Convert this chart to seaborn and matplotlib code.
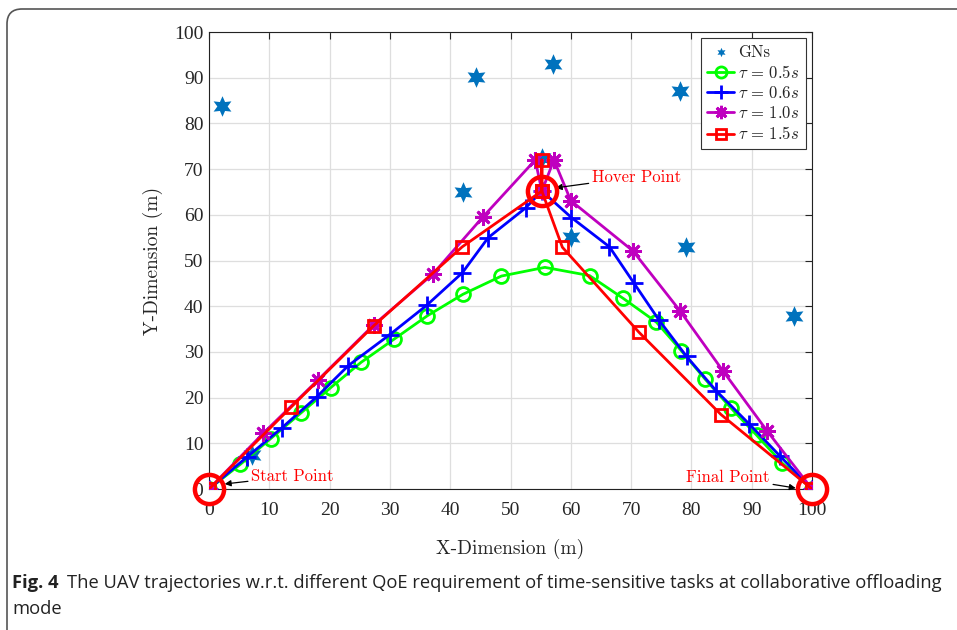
import numpy as np
import pandas as pd
import seaborn as sns
import matplotlib.pyplot as plt
from matplotlib.patches import FancyBboxPatch

# ground nodes (GNs)
gn_x = [2.2, 44.3, 57.0, 42.1, 60.0, 78.1, 79.1, 97.0, 7.1, 55.2]
gn_y = [83.8, 90.2, 93.0, 65.0, 55.1, 87.1, 53.0, 37.9, 7.5, 72.5]

# UAV trajectories for each tau
t05_x = [0, 5.2, 10.2, 15.3, 20.2, 25.2, 30.7, 36.2, 42.1, 48.5, 55.7, 63.1, 68.7, 74.2, 78.3, 82.3, 86.5, 90.8, 95.1, 100]
t05_y = [0, 5.4, 11.0, 16.7, 22.2, 27.7, 32.8, 37.9, 42.6, 46.6, 48.5, 46.7, 41.7, 36.5, 30.3, 24.0, 17.8, 11.8, 5.6, 0]

t06_x = [0, 6.3, 12.1, 17.9, 23.1, 30.0, 36.1, 42.0, 46.3, 52.5, 55.2, 60.1, 66.4, 70.5, 74.6, 79.2, 84.1, 89.6, 94.7, 100]
t06_y = [0, 7.0, 13.4, 20.2, 27.0, 33.8, 40.2, 47.3, 55.0, 61.5, 65.2, 59.4, 53.0, 45.0, 37.0, 29.0, 21.5, 14.2, 7.2, 0]

t10_x = [0, 9.0, 18.1, 27.3, 37.1, 45.4, 54.1, 55.2, 57.2, 60.0, 70.3, 78.1, 85.2, 92.5, 100]
t10_y = [0, 12.2, 23.9, 35.9, 47.0, 59.5, 72.0, 65.2, 72.0, 63.1, 52.1, 39.0, 25.9, 12.8, 0]

t15_x = [0, 13.6, 27.3, 42.0, 55.2, 55.2, 55.2, 58.6, 71.3, 84.9, 100]
t15_y = [0, 17.9, 35.7, 53.0, 65.2, 72.0, 65.2, 52.9, 34.3, 16.3, 0]

# start / hover / final points
key_x = [0, 55.2, 100]
key_y = [0, 65.2, 0]

sns.set_style("white")
plt.rcParams["mathtext.fontset"] = "cm"
plt.rcParams["font.family"] = ["Liberation Serif", "DejaVu Serif"]

fig = plt.figure(figsize=(9.57, 6.30), dpi=100)
ax = fig.add_axes([0.2184, 0.2238, 0.6301, 0.7254])

sns.scatterplot(x=gn_x, y=gn_y, ax=ax, marker=(6, 1, 0), s=220, color="#0072BD",
                edgecolor="#0072BD", linewidth=0, label="GNs", zorder=2)

series = [
    (t05_x, t05_y, "#00FF00", "o", 10, r"$\tau\,=\,0.5s$"),
    (t06_x, t06_y, "#0000FF", "+", 13, r"$\tau\,=\,0.6s$"),
    (t10_x, t10_y, "#BF00BF", (8, 2, 0), 12, r"$\tau\,=\,1.0s$"),
    (t15_x, t15_y, "#FF0000", "s", 9, r"$\tau\,=\,1.5s$"),
]
for xs, ys, col, mk, ms, lab in series:
    df = pd.DataFrame({"x": xs, "y": ys})
    sns.lineplot(data=df, x="x", y="y", ax=ax, sort=False, estimator=None,
                 color=col, lw=2, marker=mk, markersize=ms,
                 markerfacecolor="none", markeredgecolor=col, markeredgewidth=2,
                 label=lab, zorder=3)

ax.plot(key_x, key_y, ls="none", marker="o", markersize=21, markerfacecolor="none",
        markeredgecolor="#FF0000", markeredgewidth=3.2, clip_on=False, zorder=5)

arrow = dict(arrowstyle="-|>", color="k", lw=0.9, mutation_scale=9, shrinkA=0, shrinkB=0)
lab_font = dict(color="#FF0000", fontsize=12, family="cmr10")
ax.annotate("Start Point", xy=(2.6, 1.1), xytext=(7.0, 2.8), va="center", ha="left",
            arrowprops=arrow, **lab_font)
ax.annotate("Hover Point", xy=(57.5, 65.9), xytext=(63.5, 68.3), va="center", ha="left",
            arrowprops=arrow, **lab_font)
ax.annotate("Final Point", xy=(97.3, 0.2), xytext=(93.0, 2.6), va="center", ha="right",
            arrowprops=arrow, **lab_font)

ax.set_xlim(0, 100)
ax.set_ylim(0, 100)
ax.set_xticks(np.arange(0, 101, 10))
ax.set_yticks(np.arange(0, 101, 10))
ax.grid(True, color="#dedede", lw=0.9)
ax.set_axisbelow(True)
ax.tick_params(direction="in", top=True, right=True, length=5, width=0.8,
               labelsize=14, pad=4)
ax.tick_params(axis="x", pad=9)
for sp in ax.spines.values():
    sp.set_visible(True)
    sp.set_color("#222222")
    sp.set_linewidth(0.8)

ax.set_xlabel("X-Dimension (m)", fontsize=14, family="cmr10", labelpad=15)
ax.set_ylabel("Y-Dimension (m)", fontsize=14, family="cmr10", labelpad=8)

handles, labels = ax.get_legend_handles_labels()
leg = ax.legend(handles, labels, loc="upper right", fontsize=12, frameon=True,
                fancybox=False, edgecolor="#333333", framealpha=1,
                handlelength=1.6, handletextpad=0.25, labelspacing=0.25,
                borderaxespad=0.35, borderpad=0.4, markerscale=0.8)
leg.get_frame().set_linewidth(0.8)
leg.legend_handles[0].set_sizes([45])
for t in leg.get_texts():
    t.set_family("cmr10")

# caption and frame
fig.patches.append(FancyBboxPatch((0.07, -0.6), 10.0, 6.81, boxstyle="round,pad=0,rounding_size=0.15",
                                  transform=fig.dpi_scale_trans, facecolor="none",
                                  edgecolor="#555555", lw=1.2))
cap = fig.text(0.0125, 1 - 588 / 630, "Fig. 4", fontsize=13.2, weight="bold",
               family="Open Sans", color="#222222", va="baseline")
ax.annotate("The UAV trajectories w.r.t. different QoE requirement of time-sensitive tasks at collaborative offloading",
            xy=(1, 0), xycoords=cap, xytext=(6, 0), textcoords="offset points",
            fontsize=13.2, family="Open Sans", color="#222222", va="bottom", annotation_clip=False)
fig.text(0.0125, 1 - 614 / 630, "mode", fontsize=13.2, family="Open Sans",
         color="#222222", va="baseline")

fig.savefig("out.png", dpi=100)
